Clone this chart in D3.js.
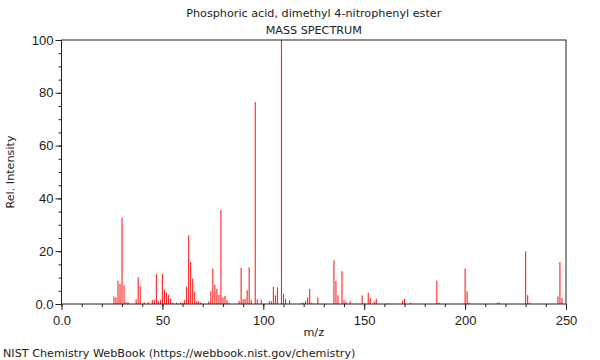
<!DOCTYPE html>
<html>
<head>
<meta charset="utf-8">
<script src="https://cdn.jsdelivr.net/npm/d3@7"></script>
<style>
  body { margin: 0; background: #fff; }
  svg { font-family: "DejaVu Sans", sans-serif; }
</style>
</head>
<body>
<svg id="chart" width="600" height="360"></svg>
<script>
// peaks: m/z and relative intensity
const mz = [26, 27, 28, 29, 30, 31, 32, 33, 37, 38, 39, 41, 43, 45, 46, 47, 48, 49, 50,
	51, 52, 53, 54, 55, 57, 59, 60, 61, 62, 63, 64, 65, 66, 67, 68, 69, 73, 74, 75, 76,
	77, 78, 79, 80, 81, 82, 83, 88, 89, 90, 91, 92, 93, 94, 96, 97, 99, 103, 104, 105,
	106, 107, 109, 110, 111, 113, 119, 120, 121, 122, 123, 124, 127, 135, 136, 137, 139,
	140, 141, 143, 149, 150, 152, 153, 155, 156, 161, 162, 169, 170, 173, 186, 187, 200,
	201, 202, 216, 217, 230, 231, 232, 246, 247, 248];
const intensity = [2.8, 2.5, 8.8, 7.6, 32.8, 7.1, 0.7, 0.7, 1.8, 10.1, 6.8, 0.7, 0.7, 1.5, 1.5, 11.4, 1.0, 1.5, 11.4,
	5.3, 4.3, 3.5, 2.0, 0.5, 0.5, 0.5, 0.5, 1.5, 6.6, 26.0, 15.9, 9.6, 4.5, 1.0, 1.0, 0.7, 1.0, 4.8, 13.4, 7.3,
	5.8, 3.5, 35.6, 2.5, 3.0, 1.5, 0.5, 1.2, 13.6, 1.8, 2.0, 5.3, 13.9, 1.5, 76.5, 1.8, 1.5, 1.0, 1.0, 6.5,
	3.3, 6.3, 100, 3.8, 2.0, 1.5, 0.5, 0.5, 1.2, 2.5, 5.7, 0.5, 2.5, 16.6, 8.8, 3.3, 12.4,
	1.5, 0.8, 1.0, 3.3, 0.3, 4.3, 2.3, 1.0, 2.0, 0.2, 0.2, 1.2, 2.0, 0.5, 8.9, 0.5, 13.4,
	4.8, 0.5, 0.5, 0.5, 20.0, 3.3, 0.5, 2.8, 15.9, 2.3];
const xMajor = [0, 50, 100, 150, 200, 250];
const xLabels = ["0.0", "50", "100", "150", "200", "250"];
const yMajor = [0, 20, 40, 60, 80, 100];
const yLabels = ["0.0", "20", "40", "60", "80", "100"];

const svg = d3.select("#chart");
const margins = {"top": 40, "left": 61.5, "right": 34, "bottom": 56};
const width = 600, height = 360;

const xScale = d3.scaleLinear()
	.domain([0, 250])
	.range([margins.left, width - margins.right]);
const yScale = d3.scaleLinear()
	.domain([0, 100])
	.range([height - margins.bottom, margins.top]);

const ink = "#222";

// minor ticks first, majors with labels on top
svg.append("g")
	.attr("transform", "translate(0," + yScale(0) + ")")
	.call(d3.axisBottom(xScale).tickValues(d3.range(0, 251, 10)).tickSize(3).tickFormat(""))
	.call(g => g.select(".domain").remove());
svg.append("g")
	.attr("transform", "translate(0," + yScale(0) + ")")
	.call(d3.axisBottom(xScale).tickValues(xMajor).tickSize(6).tickSizeOuter(0)
		.tickFormat((d, i) => xLabels[i]))
	.call(g => g.select(".domain").remove())
	.call(g => g.selectAll("text").attr("font-size", 13).attr("fill", ink).attr("dy", "0.9em"));

svg.append("g")
	.attr("transform", "translate(" + xScale(0) + ",0)")
	.call(d3.axisLeft(yScale).tickValues(d3.range(0, 101, 5)).tickSize(3).tickFormat(""))
	.call(g => g.select(".domain").remove());
svg.append("g")
	.attr("transform", "translate(" + xScale(0) + ",0)")
	.call(d3.axisLeft(yScale).tickValues(yMajor).tickSize(6).tickSizeOuter(0)
		.tickFormat((d, i) => yLabels[i]))
	.call(g => g.select(".domain").remove())
	.call(g => g.selectAll("text").attr("font-size", 13).attr("fill", ink).attr("x", -8));

svg.selectAll(".tick line").attr("stroke", ink);

// spectrum sticks
const peaks = mz.map((m, i) => ({"mz": m, "value": intensity[i]}));
svg.append("g")
	.selectAll("line")
	.data(peaks)
	.join("line")
	.attr("x1", d => xScale(d.mz))
	.attr("x2", d => xScale(d.mz))
	.attr("y1", yScale(0))
	.attr("y2", d => yScale(d.value))
	.attr("stroke", "#f22")
	.attr("stroke-width", 1.1);

// frame
svg.append("rect")
	.attr("x", xScale(0))
	.attr("y", yScale(100))
	.attr("width", xScale(250) - xScale(0))
	.attr("height", yScale(0) - yScale(100))
	.attr("fill", "none")
	.attr("stroke", ink)
	.attr("stroke-width", 1);

const mid = (xScale(0) + xScale(250)) / 2;
svg.append("text").attr("x", mid).attr("y", 17).attr("text-anchor", "middle")
	.attr("font-size", 11.2).attr("fill", ink)
	.text("Phosphoric acid, dimethyl 4-nitrophenyl ester");
svg.append("text").attr("x", mid).attr("y", 34).attr("text-anchor", "middle")
	.attr("font-size", 11.2).attr("fill", ink)
	.text("MASS SPECTRUM");
svg.append("text").attr("x", mid).attr("y", 336).attr("text-anchor", "middle")
	.attr("font-size", 11.2).attr("fill", ink)
	.text("m/z");
svg.append("text")
	.attr("transform", "translate(14," + (yScale(50)) + ") rotate(-90)")
	.attr("text-anchor", "middle")
	.attr("font-size", 11.2).attr("fill", ink)
	.text("Rel. Intensity");
svg.append("text").attr("x", 3).attr("y", 357)
	.attr("font-size", 11.2).attr("fill", ink)
	.text("NIST Chemistry WebBook (https://webbook.nist.gov/chemistry)");
</script>
</body>
</html>
